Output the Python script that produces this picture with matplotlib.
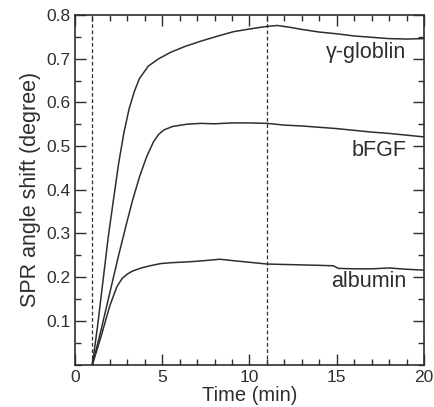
import matplotlib.pyplot as plt
from matplotlib.ticker import MultipleLocator, FixedLocator

# 数据：近似值
t_glob = [1.0, 1.3, 1.6, 1.9, 2.2, 2.5, 2.8, 3.1, 3.4, 3.7, 4.2, 4.8, 5.5, 6.3, 7.2,
          8.2, 9.1, 10.0, 11.0, 11.6, 12.3, 13.0, 14.0, 15.0, 16.0, 17.0, 18.0, 19.0, 20.0]
y_glob = [0.0, 0.09, 0.19, 0.29, 0.376, 0.46, 0.53, 0.585, 0.625, 0.655, 0.683, 0.700, 0.715,
          0.728, 0.740, 0.752, 0.762, 0.768, 0.774, 0.776, 0.772, 0.767, 0.761, 0.757, 0.752,
          0.749, 0.746, 0.745, 0.746]

t_bfgf = [1.0, 1.5, 2.0, 2.5, 3.0, 3.3, 3.7, 4.1, 4.5, 4.8, 5.1, 5.6, 6.4, 7.2, 8.0, 9.0,
          10.0, 11.0, 12.0, 13.0, 14.0, 15.0, 16.0, 17.0, 18.0, 19.0, 20.0]
y_bfgf = [0.0, 0.08, 0.165, 0.25, 0.33, 0.376, 0.43, 0.475, 0.510, 0.527, 0.537, 0.545,
          0.550, 0.552, 0.551, 0.553, 0.553, 0.552, 0.548, 0.546, 0.543, 0.540, 0.536,
          0.532, 0.529, 0.525, 0.521]

t_alb = [1.0, 1.5, 2.0, 2.4, 2.7, 3.0, 3.3, 3.8, 4.3, 4.9, 5.5, 6.5, 7.5, 8.3, 9.0, 10.0,
         11.0, 12.0, 13.0, 14.0, 14.8, 15.1, 16.0, 17.0, 18.0, 19.0, 20.0]
y_alb = [0.0, 0.065, 0.135, 0.178, 0.197, 0.207, 0.214, 0.221, 0.226, 0.231, 0.233, 0.235,
         0.238, 0.241, 0.238, 0.234, 0.230, 0.229, 0.228, 0.227, 0.226, 0.220, 0.219, 0.219,
         0.221, 0.218, 0.216]

labels = ['γ-globlin', 'bFGF', 'albumin']
label_y = [0.715, 0.49, 0.19]
marks = [1, 11]  # 虚线位置

plt.rcParams['font.family'] = ['Liberation Sans', 'DejaVu Sans']
ink = '#2e2e2e'

fig = plt.figure(figsize=(4.35, 4.07), dpi=100)
ax = fig.add_axes([0.1724, 0.1044, 0.8023, 0.8587])

for t, y in [(t_glob, y_glob), (t_bfgf, y_bfgf), (t_alb, y_alb)]:
    ax.plot(t, y, color=ink, lw=1.1)
for m in marks:
    ax.axvline(m, color=ink, lw=0.9, ls=(0, (3, 2)))
for lab, ly in zip(labels, label_y):
    ax.text(19.0, ly, lab, ha='right', va='center', fontsize=15.5, color=ink)

ax.set_xlim(0, 20)
ax.set_ylim(0, 0.8)
ax.xaxis.set_major_locator(MultipleLocator(5))
ax.xaxis.set_minor_locator(MultipleLocator(1))
ax.yaxis.set_major_locator(FixedLocator([0.1, 0.2, 0.3, 0.4, 0.5, 0.6, 0.7, 0.8]))
ax.yaxis.set_minor_locator(MultipleLocator(0.05))
ax.tick_params(which='both', direction='in', top=True, right=True, colors=ink,
               labelsize=12.5, width=1.0)
ax.tick_params(which='major', length=8)
ax.tick_params(axis='y', which='major', pad=3)
ax.tick_params(axis='x', which='major', pad=4)
ax.tick_params(which='minor', length=4)
for s in ax.spines.values():
    s.set_linewidth(1.2)
    s.set_color(ink)

ax.set_xlabel('Time (min)', fontsize=14.5, color=ink, labelpad=0.5)
ax.set_ylabel('SPR angle shift (degree)', fontsize=15.5, color=ink, labelpad=4)

fig.savefig('out.png', dpi=100)
